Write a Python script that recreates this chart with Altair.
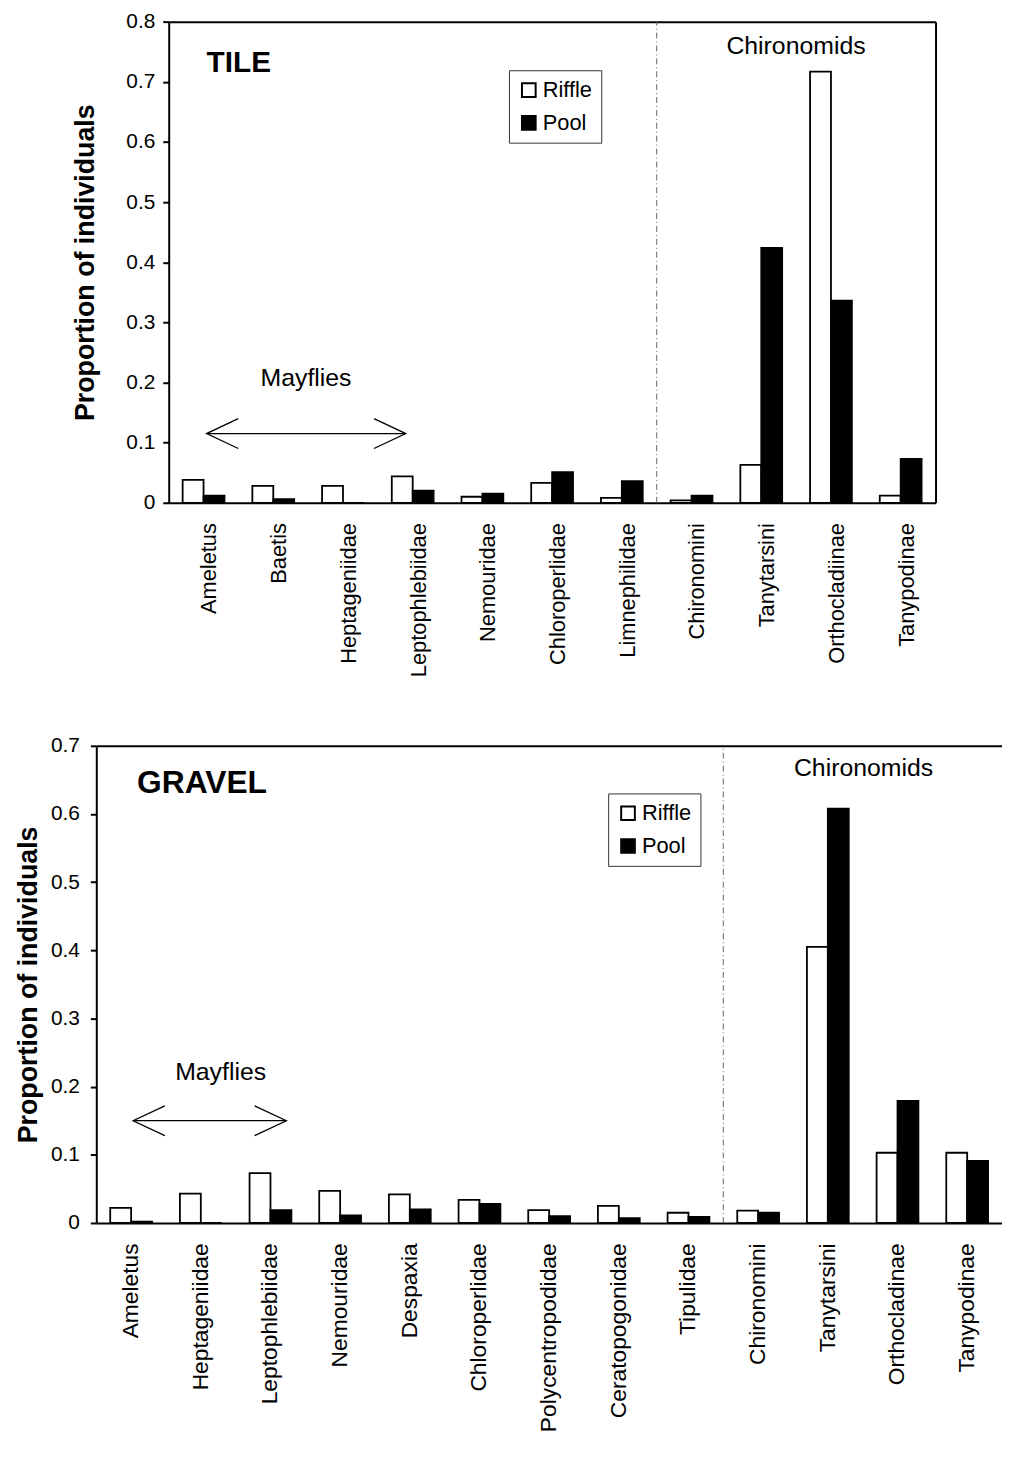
import altair as alt
import pandas as pd

FONT = "Liberation Sans"
HABITATS = ["Riffle", "Pool"]

# ---------------- data ----------------
tile_taxa = ["Ameletus", "Baetis", "Heptageniidae", "Leptophlebiidae", "Nemouridae",
             "Chloroperlidae", "Limnephilidae", "Chironomini", "Tanytarsini",
             "Orthocladiinae", "Tanypodinae"]
tile_riffle = [0.038, 0.028, 0.028, 0.044, 0.010, 0.033, 0.008, 0.004, 0.063, 0.717, 0.012]
tile_pool = [0.012, 0.006, 0.0, 0.020, 0.015, 0.051, 0.036, 0.012, 0.424, 0.336, 0.073]

gravel_taxa = ["Ameletus", "Heptageniidae", "Leptophlebiidae", "Nemouridae", "Despaxia",
               "Chloroperlidae", "Polycentropodidae", "Ceratopogonidae", "Tipulidae",
               "Chironomini", "Tanytarsini", "Orthocladinae", "Tanypodinae"]
gravel_riffle = [0.022, 0.043, 0.073, 0.047, 0.042, 0.034, 0.019, 0.025, 0.015, 0.018, 0.405, 0.103, 0.103]
gravel_pool = [0.002, 0.0, 0.019, 0.011, 0.020, 0.028, 0.010, 0.007, 0.009, 0.015, 0.608, 0.179, 0.091]


def long_df(taxa, riffle, pool):
    rows = []
    for t, r, p in zip(taxa, riffle, pool):
        rows.append({"taxon": t, "habitat": "Riffle", "value": r})
        rows.append({"taxon": t, "habitat": "Pool", "value": p})
    return pd.DataFrame(rows)


def panel(taxa, riffle, pool, ymax, width, height, xrange, yaxis_offset,
          label_pad_y, title_pad, xlabel_size, xlabel_offset, right_frame,
          legend_xy, title_txt, title_size, title_pos, chiro_pos, may_pos, arrow_pos):
    step = (xrange[1] - xrange[0]) / len(taxa)
    df = long_df(taxa, riffle, pool)
    xsort = taxa

    def xnone():
        return alt.X("taxon:N", sort=xsort, axis=None)

    bars = alt.Chart(df).mark_bar(stroke="black", strokeWidth=1.8).encode(
        x=alt.X("taxon:N", sort=xsort,
                scale=alt.Scale(domain=taxa, range=list(xrange), paddingInner=0.4, paddingOuter=0.2),
                axis=alt.Axis(title=None, labelAngle=-90, labelFontSize=xlabel_size,
                              labelFont=FONT, labelColor="black", labelPadding=20,
                              labelOffset=xlabel_offset, ticks=False, labels=True,
                              labelLimit=0, domain=True,
                              domainColor="black", domainWidth=2)),
        xOffset=alt.XOffset("habitat:N", sort=HABITATS,
                            scale=alt.Scale(domain=HABITATS, paddingInner=0, paddingOuter=0)),
        y=alt.Y("value:Q", scale=alt.Scale(domain=[0, ymax], nice=False),
                axis=alt.Axis(title="Proportion of individuals", titleFontSize=27,
                              titleFont=FONT, titleFontWeight="bold", titleColor="black",
                              titlePadding=title_pad,
                              values=[round(i * 0.1, 1) for i in range(int(round(ymax * 10)) + 1)],
                              format=".1~f", labelFontSize=21, labelFont=FONT,
                              labelColor="black", labelPadding=label_pad_y, labels=True,
                              ticks=True, domain=True,
                              tickSize=6, tickColor="black", tickWidth=2,
                              domainColor="black", domainWidth=2, grid=False,
                              offset=yaxis_offset)),
        color=alt.Color("habitat:N", sort=HABITATS,
                        scale=alt.Scale(domain=HABITATS, range=["white", "black"]),
                        legend=alt.Legend(title=None, orient="none",
                                          legendX=legend_xy[0], legendY=legend_xy[1],
                                          strokeColor="#333", padding=9,
                                          symbolType="square", symbolSize=190,
                                          symbolStrokeColor="black", symbolStrokeWidth=2,
                                          symbolOpacity=1, labelFontSize=22, labelFont=FONT,
                                          labelColor="black", labelOffset=3,
                                          rowPadding=11)),
    )

    # chironomid separator (also carries the frame axes)
    sep_df = pd.DataFrame({"taxon": ["Chironomini"], "y0": [0.0], "y1": [ymax]})
    right_axis = (alt.Axis(orient="right", labels=False, ticks=False, title=None, domain=True,
                           domainColor="black", domainWidth=2, grid=False,
                           minExtent=0, maxExtent=0)
                  if right_frame else None)
    sep = alt.Chart(sep_df).mark_rule(color="#666", strokeWidth=1, strokeDash=[6, 3, 1, 3],
                                      xOffset=-step / 2).encode(
        x=alt.X("taxon:N", sort=xsort,
                axis=alt.Axis(orient="top", labels=False, ticks=False, title=None, domain=True,
                              domainColor="black", domainWidth=2, minExtent=0, maxExtent=0)),
        y=alt.Y("y0:Q", axis=right_axis),
        y2="y1:Q",
    )

    # text annotations
    t_df = pd.DataFrame({"taxon": [title_pos[0]], "y": [title_pos[1]], "label": [title_txt]})
    title_layer = alt.Chart(t_df).mark_text(align="left", baseline="middle", font=FONT,
                                            fontSize=title_size, fontWeight="bold", color="black",
                                            dx=title_pos[2]).encode(
        x=xnone(), y=alt.Y("y:Q", axis=None), text="label:N")

    c_df = pd.DataFrame({"taxon": [chiro_pos[0]], "y": [chiro_pos[1]], "label": ["Chironomids"]})
    chiro_layer = alt.Chart(c_df).mark_text(align="center", baseline="middle", font=FONT,
                                            fontSize=25, color="black",
                                            dx=chiro_pos[2]).encode(
        x=xnone(), y=alt.Y("y:Q", axis=None), text="label:N")

    m_df = pd.DataFrame({"taxon": [may_pos[0]], "y": [may_pos[1]], "label": ["Mayflies"]})
    may_layer = alt.Chart(m_df).mark_text(align="center", baseline="middle", font=FONT,
                                          fontSize=25, color="black",
                                          dx=may_pos[2]).encode(
        x=xnone(), y=alt.Y("y:Q", axis=None), text="label:N")

    # double-headed arrow
    a_from, a_to, a_y, off_from, off_to = arrow_pos
    a_df = pd.DataFrame({"taxon": [a_from], "taxon2": [a_to], "y": [a_y]})
    shaft = alt.Chart(a_df).mark_rule(color="black", strokeWidth=1.3,
                                      xOffset=off_from, x2Offset=off_to).encode(
        x=xnone(), x2="taxon2:N", y=alt.Y("y:Q", axis=None))
    hl_df = pd.DataFrame({"taxon": [a_from], "y": [a_y]})
    hr_df = pd.DataFrame({"taxon": [a_to], "y": [a_y]})
    head_l = alt.Chart(hl_df).mark_point(shape="M2,-0.94L0,0L2,0.94", size=1024, filled=False,
                                         color="black", strokeWidth=1.3, opacity=1,
                                         xOffset=off_from).encode(
        x=xnone(), y=alt.Y("y:Q", axis=None))
    head_r = alt.Chart(hr_df).mark_point(shape="M-2,-0.94L0,0L-2,0.94", size=1024, filled=False,
                                         color="black", strokeWidth=1.3, opacity=1,
                                         xOffset=off_to).encode(
        x=xnone(), y=alt.Y("y:Q", axis=None))

    return alt.layer(bars, sep, title_layer, chiro_layer, may_layer, shaft, head_l, head_r).resolve_axis(
        x="independent", y="independent").properties(width=width, height=height)


TOP_W = 846
top = panel(tile_taxa, tile_riffle, tile_pool, 0.8, TOP_W, 485, (73, TOP_W), -73,
            label_pad_y=8, title_pad=27, xlabel_size=22, xlabel_offset=6, right_frame=True,
            legend_xy=(416, 49), title_txt="TILE", title_size=30,
            title_pos=("Ameletus", 0.731, 3),
            chiro_pos=("Tanytarsini", 0.76, 35), may_pos=("Baetis", 0.207, 33),
            arrow_pos=("Ameletus", "Leptophlebiidae", 0.115, 3, -7))

BOT_W = 913
bottom = panel(gravel_taxa, gravel_riffle, gravel_pool, 0.7, BOT_W, 481, (0, BOT_W), 0,
               label_pad_y=11, title_pad=8, xlabel_size=23, xlabel_offset=0, right_frame=False,
               legend_xy=(516, 48), title_txt="GRAVEL", title_size=32,
               title_pos=("Ameletus", 0.645, 6),
               chiro_pos=("Tanytarsini", 0.667, 36), may_pos=("Heptageniidae", 0.221, 20),
               arrow_pos=("Ameletus", "Leptophlebiidae", 0.15, 2, 16))

chart = alt.vconcat(top, bottom, spacing=58).resolve_scale(
    color="independent").resolve_legend(color="independent").properties(
    padding={"left": 6, "top": -3, "right": 0, "bottom": 0},
    background="white").configure(font=FONT).configure_view(
    stroke=None, strokeWidth=0).configure_axis(grid=False)

chart.save("out.html", embed_options={"renderer": "svg", "actions": False})
